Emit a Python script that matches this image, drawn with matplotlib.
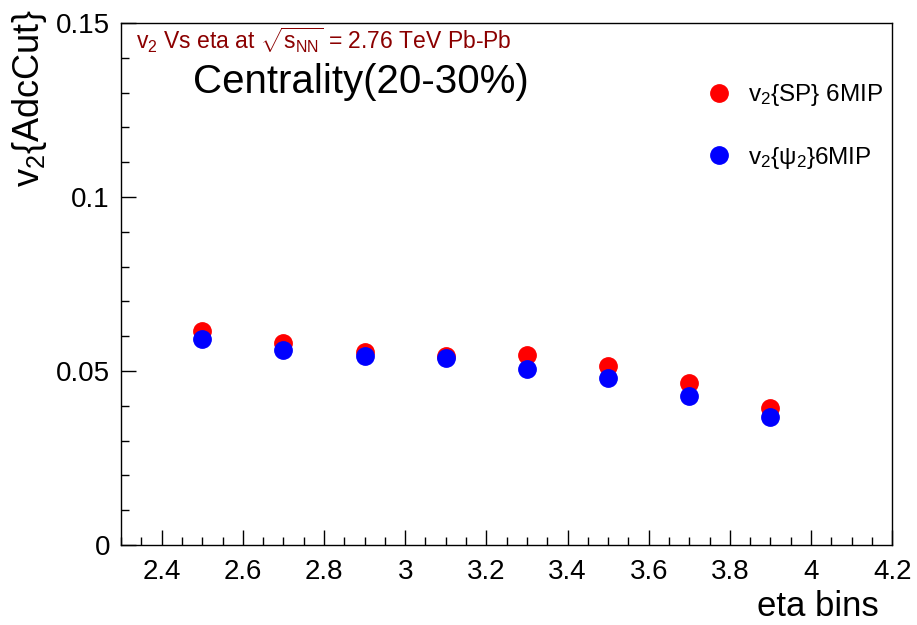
import matplotlib
matplotlib.use('Agg')
import matplotlib.pyplot as plt
from matplotlib.ticker import MultipleLocator, FuncFormatter

plt.rcParams['font.family'] = ['Liberation Sans', 'DejaVu Sans']
plt.rcParams['mathtext.fontset'] = 'custom'
plt.rcParams['mathtext.rm'] = 'Liberation Sans'
plt.rcParams['mathtext.it'] = 'Liberation Sans:italic'
plt.rcParams['mathtext.sf'] = 'Liberation Sans'

# eta bin centres
eta = [2.5, 2.7, 2.9, 3.1, 3.3, 3.5, 3.7, 3.9]
# v2 values
v2_sp = [0.0616, 0.0582, 0.0556, 0.0543, 0.0546, 0.0515, 0.0465, 0.0394]
v2_psi = [0.0591, 0.0560, 0.0543, 0.0538, 0.0505, 0.0480, 0.0427, 0.0369]

fig = plt.figure(figsize=(9.17, 6.25), dpi=100)
ax = fig.add_axes([0.132, 0.128, 0.841, 0.835])

ax.plot(eta, v2_sp, 'o', color='#ff0000', markersize=12.5, label=r'v$_2${SP} 6MIP')
ax.plot(eta, v2_psi, 'o', color='#0000ff', markersize=12.5, label=r'v$_2${ψ$_2$}6MIP')

ax.set_xlim(2.3, 4.2)
ax.set_ylim(0, 0.15)

ax.xaxis.set_major_locator(MultipleLocator(0.2))
ax.xaxis.set_minor_locator(MultipleLocator(0.05))
ax.yaxis.set_major_locator(MultipleLocator(0.05))
ax.yaxis.set_minor_locator(MultipleLocator(0.01))
fmt = FuncFormatter(lambda v, p: '%g' % round(v, 3))
ax.xaxis.set_major_formatter(fmt)
ax.yaxis.set_major_formatter(fmt)

ax.tick_params(which='both', direction='in', top=False, right=False, labelsize=20, width=1)
ax.tick_params(which='major', length=11)
ax.tick_params(which='minor', length=5.5)
ax.tick_params(axis='x', pad=10)
ax.tick_params(axis='y', pad=8)
for s in ax.spines.values():
    s.set_linewidth(1)

ax.set_xlabel('eta bins', fontsize=25, loc='right')
ax.set_ylabel(r'v$_2${AdcCut}', fontsize=26, loc='top')
ax.xaxis.set_label_coords(0.982, -0.086)
ax.yaxis.set_label_coords(-0.094, 1.025)

ax.text(0.02, 0.995, r'v$_2$ Vs eta at $\sqrt{\mathrm{s}_{\mathrm{NN}}}$ = 2.76 TeV Pb-Pb',
        transform=ax.transAxes, color='#8b0000', fontsize=16.5, va='top', ha='left')
ax.text(0.093, 0.888, 'Centrality(20-30%)', transform=ax.transAxes,
        fontsize=29, va='center', ha='left')

ax.legend(loc='upper left', bbox_to_anchor=(0.731, 0.905), frameon=False,
          fontsize=17.5, labelspacing=1.5, handletextpad=0.2, borderaxespad=0)

fig.savefig('out.png', dpi=100)
